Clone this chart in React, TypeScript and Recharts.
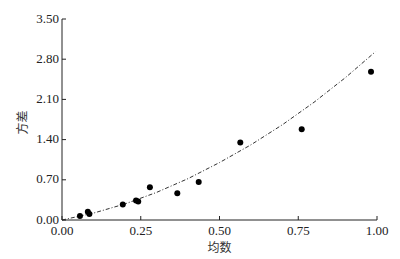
import React from "react";
import { ScatterChart, Scatter, XAxis, YAxis, Label } from "recharts";

// observed points (mean, variance)
const MEANS = [0.057, 0.082, 0.087, 0.193, 0.235, 0.242, 0.279, 0.366, 0.434, 0.566, 0.761, 0.981];
const VARIANCES = [0.07, 0.145, 0.105, 0.27, 0.34, 0.32, 0.57, 0.465, 0.66, 1.35, 1.58, 2.58];

// fitted curve
const FIT_X = [0.0, 0.1, 0.2, 0.3, 0.4, 0.5, 0.6, 0.7, 0.8, 0.9, 0.995];
const FIT_Y = [0.0, 0.12, 0.28, 0.48, 0.72, 1.0, 1.31, 1.66, 2.05, 2.48, 2.93];

const X_TICKS = [0, 0.25, 0.5, 0.75, 1];
const Y_TICKS = [0, 0.7, 1.4, 2.1, 2.8, 3.5];

const SERIF = '"Liberation Serif", "DejaVu Serif", serif';
const CJK = '"Noto Sans CJK SC", sans-serif';

const points = MEANS.map((m, i) => ({ x: m, y: VARIANCES[i] }));
const fit = FIT_X.map((x, i) => ({ x, y: FIT_Y[i] }));

function XTick(props: any) {
  const { x, y, payload } = props;
  return (
    <g>
      <line x1={x} x2={x} y1={y} y2={y - 4} stroke="#222" strokeWidth={1} />
      <text x={x} y={y + 15} textAnchor="middle" fontFamily={SERIF} fontSize={13} fill="#222">
        {Number(payload.value).toFixed(2)}
      </text>
    </g>
  );
}

function YTick(props: any) {
  const { x, y, payload } = props;
  return (
    <g>
      <line x1={x} x2={x + 4} y1={y} y2={y} stroke="#222" strokeWidth={1} />
      <text x={x - 3} y={y + 3.5} textAnchor="end" fontFamily={SERIF} fontSize={13} fill="#222">
        {Number(payload.value).toFixed(2)}
      </text>
    </g>
  );
}

function YLabel(props: any) {
  const { viewBox } = props;
  const cy = viewBox.y + viewBox.height / 2 + 3;
  const cx = 21;
  return (
    <text
      x={cx}
      y={cy}
      transform={`rotate(-90, ${cx}, ${cy})`}
      textAnchor="middle"
      dominantBaseline="central"
      fontFamily={CJK}
      fontSize={12}
      fill="#333"
    >
      方差
    </text>
  );
}

const Dot = (props: any) => <circle cx={props.cx} cy={props.cy} r={3} fill="#000" />;
const NoDot = () => <g />;

export default function App() {
  return (
    <div style={{ position: "absolute", left: 0, top: 0, width: 400, height: 259, background: "#fff" }}>
      <ScatterChart width={400} height={259} margin={{ top: 19, right: 23, bottom: 0, left: 0 }}>
        <XAxis
          type="number"
          dataKey="x"
          domain={[0, 1]}
          ticks={X_TICKS}
          interval={0}
          height={39}
          tickSize={0}
          tickMargin={0}
          tick={<XTick />}
          axisLine={{ stroke: "#222", strokeWidth: 1 }}
          tickLine={false}
        >
          <Label
            value="均数"
            position="insideBottom"
            offset={7}
            style={{ fontFamily: CJK, fontSize: 12, fill: "#333" }}
          />
        </XAxis>
        <YAxis
          type="number"
          dataKey="y"
          domain={[0, 3.5]}
          ticks={Y_TICKS}
          interval={0}
          width={62}
          tickSize={0}
          tickMargin={0}
          tick={<YTick />}
          axisLine={{ stroke: "#222", strokeWidth: 1 }}
          tickLine={false}
        >
          <Label content={<YLabel />} />
        </YAxis>
        <Scatter
          data={fit}
          fill="none"
          shape={NoDot}
          line={{ stroke: "#333", strokeWidth: 1, strokeDasharray: "4 2 1 2" }}
          lineType="joint"
          isAnimationActive={false}
        />
        <Scatter data={points} fill="#000" shape={Dot} isAnimationActive={false} />
      </ScatterChart>
    </div>
  );
}
